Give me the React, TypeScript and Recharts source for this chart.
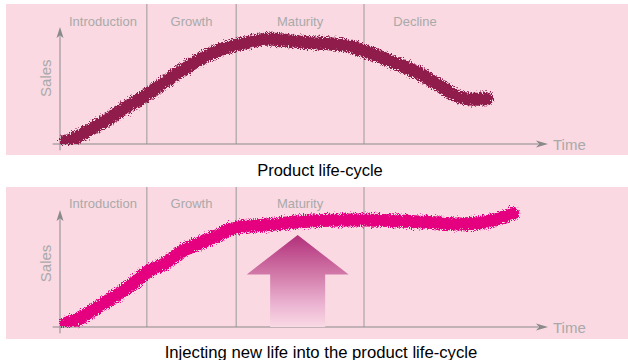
import React from "react";
import { ComposedChart, Line, XAxis, YAxis, ReferenceLine, ReferenceArea, ReferenceDot } from "recharts";

// Time axis: 0..100 (arbitrary time units), Sales: 0..100 (relative)
const topTime = [0, 2.7, 5.5, 9.6, 13, 16.4, 20, 24, 28.7, 32.2, 36.1, 38.9, 43, 49.2, 58, 62.3, 68.2, 73.8, 78.5, 82.6, 85.5, 87.5];
const topSales = [1.2, 3.6, 9, 17.1, 25, 32, 40.5, 50.5, 60.5, 66.5, 70.7, 72.9, 75, 72.9, 70.7, 66.4, 58.6, 50, 40, 32.6, 32, 32.3];

const bottomTime = [0, 4.1, 8.2, 15, 17.8, 21.9, 25.2, 28.7, 32.2, 36.1, 42.4, 49.2, 58, 62.3, 68.2, 75.2, 82, 87.5, 90.8, 92.8];
const bottomSales = [1.4, 6.4, 15.2, 31.2, 39.1, 46.2, 54.5, 60, 65.2, 71.2, 72.9, 75.2, 76.4, 76.4, 75.9, 74.8, 73.6, 75.2, 78.4, 81.2];

// stage boundaries on the time axis
const stageNames = ["Introduction", "Growth", "Maturity", "Decline"];
const stageStart = [-0.2, 17.8, 36.1, 62.3];
const stageEnd = [17.8, 36.1, 62.3, 83.2];
const dividers = [17.8, 36.1, 62.3];

const captions = ["Product life-cycle", "Injecting new life into the product life-cycle"];

const topData = topTime.map((t, i) => ({ t, sales: topSales[i] }));
const bottomData = bottomTime.map((t, i) => ({ t, sales: bottomSales[i] }));

const FONT = '"Liberation Sans", Arial, Helvetica, sans-serif';
const BG = "#fad9e2";
const LABEL = "#a9a9a9";
const AXIS = "#8a8a8a";

const XArrow = (props: any) => {
  const { cx, cy } = props;
  return (
    <g>
      <polygon points={`${cx},${cy} ${cx - 12},${cy - 3.5} ${cx - 9},${cy} ${cx - 12},${cy + 3.5}`} fill={AXIS} />
      <text x={cx + 5} y={cy} dominantBaseline="central" fontSize={15} fill={LABEL} fontFamily={FONT}>Time</text>
    </g>
  );
};

const YArrow = (props: any) => {
  const { cx, cy } = props;
  return <polygon points={`${cx},${cy} ${cx - 3.5},${cy + 11} ${cx},${cy + 8.5} ${cx + 3.5},${cy + 11}`} fill={AXIS} />;
};

const SalesLabel = (props: any) => {
  const { cx, cy } = props;
  return (
    <text x={cx} y={cy} transform={`rotate(-90 ${cx} ${cy})`} textAnchor="middle" dominantBaseline="central" fontSize={15} fill={LABEL} fontFamily={FONT}>
      Sales
    </text>
  );
};

const UpArrow = (props: any) => {
  const { cx, cy } = props;
  const headH = 39.5, headHalf = 51, shaftHalf = 27.5, total = 92;
  const pts = [
    [cx, cy],
    [cx + headHalf, cy + headH],
    [cx + shaftHalf, cy + headH],
    [cx + shaftHalf, cy + total],
    [cx - shaftHalf, cy + total],
    [cx - shaftHalf, cy + headH],
    [cx - headHalf, cy + headH],
  ].map((p) => p.join(",")).join(" ");
  return <polygon points={pts} fill="url(#arrowGrad)" />;
};

type PanelProps = { data: any[]; color: string; filter: string; salesY: number; labelOffset: number; showArrow?: boolean; stages: number; height: number; bottom: number };

const Panel = ({ data, color, filter, salesY, labelOffset, showArrow, stages, height, bottom }: PanelProps) => (
  <ComposedChart width={622} height={height} data={data} margin={{ top: 0, right: 80, bottom, left: 54 }}>
    <XAxis dataKey="t" type="number" domain={[0, 100]} hide allowDataOverflow />
    <YAxis type="number" domain={[0, 100]} hide allowDataOverflow />
    {stageNames.slice(0, stages).map((name, i) => (
      <ReferenceArea
        key={name}
        x1={stageStart[i]}
        x2={stageEnd[i]}
        y1={0}
        y2={100}
        fill="none"
        fillOpacity={0}
        stroke="none"
        ifOverflow="visible"
        label={{ value: name, position: "insideTop", offset: labelOffset, fill: LABEL, fontSize: 13, fontFamily: FONT }}
      />
    ))}
    {dividers.map((d) => (
      <ReferenceLine key={d} x={d} stroke="#9a9a9a" strokeWidth={1} ifOverflow="visible" />
    ))}
    <ReferenceLine segment={[{ x: -1.5, y: 0 }, { x: 98, y: 0 }]} stroke={AXIS} strokeWidth={1} ifOverflow="visible" />
    <ReferenceLine segment={[{ x: 0, y: -4.5 }, { x: 0, y: 77 }]} stroke={AXIS} strokeWidth={1} ifOverflow="visible" />
    <ReferenceDot x={100} y={0} ifOverflow="visible" shape={XArrow} />
    <ReferenceDot x={0} y={83.6} ifOverflow="visible" shape={YArrow} />
    <ReferenceDot x={-2.9} y={salesY} ifOverflow="visible" shape={SalesLabel} />
    {showArrow && <ReferenceDot x={48.7} y={65.7} ifOverflow="visible" shape={UpArrow} />}
    <Line
      dataKey="sales"
      type="monotone"
      stroke={color}
      strokeWidth={13}
      strokeLinecap="round"
      dot={false}
      activeDot={false}
      isAnimationActive={false}
      className={filter}
    />
  </ComposedChart>
);

export default function App() {
  return (
    <div style={{ position: "absolute", left: 0, top: 0, width: 628, height: 360, background: "#fff", overflow: "hidden", fontFamily: FONT }}>
      <style>{`.roughTop { filter: url(#rough1); } .roughBottom { filter: url(#rough2); }`}</style>
      <svg width={0} height={0} style={{ position: "absolute" }}>
        <defs>
          <filter id="rough1" x="-5%" y="-20%" width="110%" height="140%">
            <feTurbulence type="fractalNoise" baseFrequency="0.9" numOctaves={2} seed={3} result="noise" />
            <feDisplacementMap in="SourceGraphic" in2="noise" scale={8} xChannelSelector="R" yChannelSelector="G" />
          </filter>
          <filter id="rough2" x="-5%" y="-20%" width="110%" height="140%">
            <feTurbulence type="fractalNoise" baseFrequency="0.9" numOctaves={2} seed={7} result="noise" />
            <feDisplacementMap in="SourceGraphic" in2="noise" scale={8} xChannelSelector="R" yChannelSelector="G" />
          </filter>
          <linearGradient id="arrowGrad" x1="0" y1="0" x2="0" y2="1">
            <stop offset="0" stopColor="#b22f7b" />
            <stop offset="0.43" stopColor="#d27aa9" />
            <stop offset="0.75" stopColor="#ebb3d1" />
            <stop offset="1" stopColor="#f9d9e4" />
          </linearGradient>
        </defs>
      </svg>

      <div style={{ position: "absolute", left: 6, top: 4, width: 622, height: 151, background: BG }}>
        <Panel data={topData} color="#8f1a4b" filter="roughTop" salesY={47} labelOffset={13} stages={4} height={151} bottom={11} />
      </div>
      <div style={{ position: "absolute", left: 0, top: 160, width: 640, textAlign: "center", fontSize: 16.5, lineHeight: "20px", color: "#000", whiteSpace: "nowrap" }}>
        {captions[0]}
      </div>

      <div style={{ position: "absolute", left: 6, top: 187, width: 622, height: 152, background: BG }}>
        <Panel data={bottomData} color="#e4007f" filter="roughBottom" salesY={45.4} labelOffset={12} stages={3} showArrow height={152} bottom={12} />
      </div>
      <div style={{ position: "absolute", left: 0, top: 343, width: 642, textAlign: "center", fontSize: 16.7, lineHeight: "20px", color: "#000", whiteSpace: "nowrap" }}>
        {captions[1]}
      </div>
    </div>
  );
}
